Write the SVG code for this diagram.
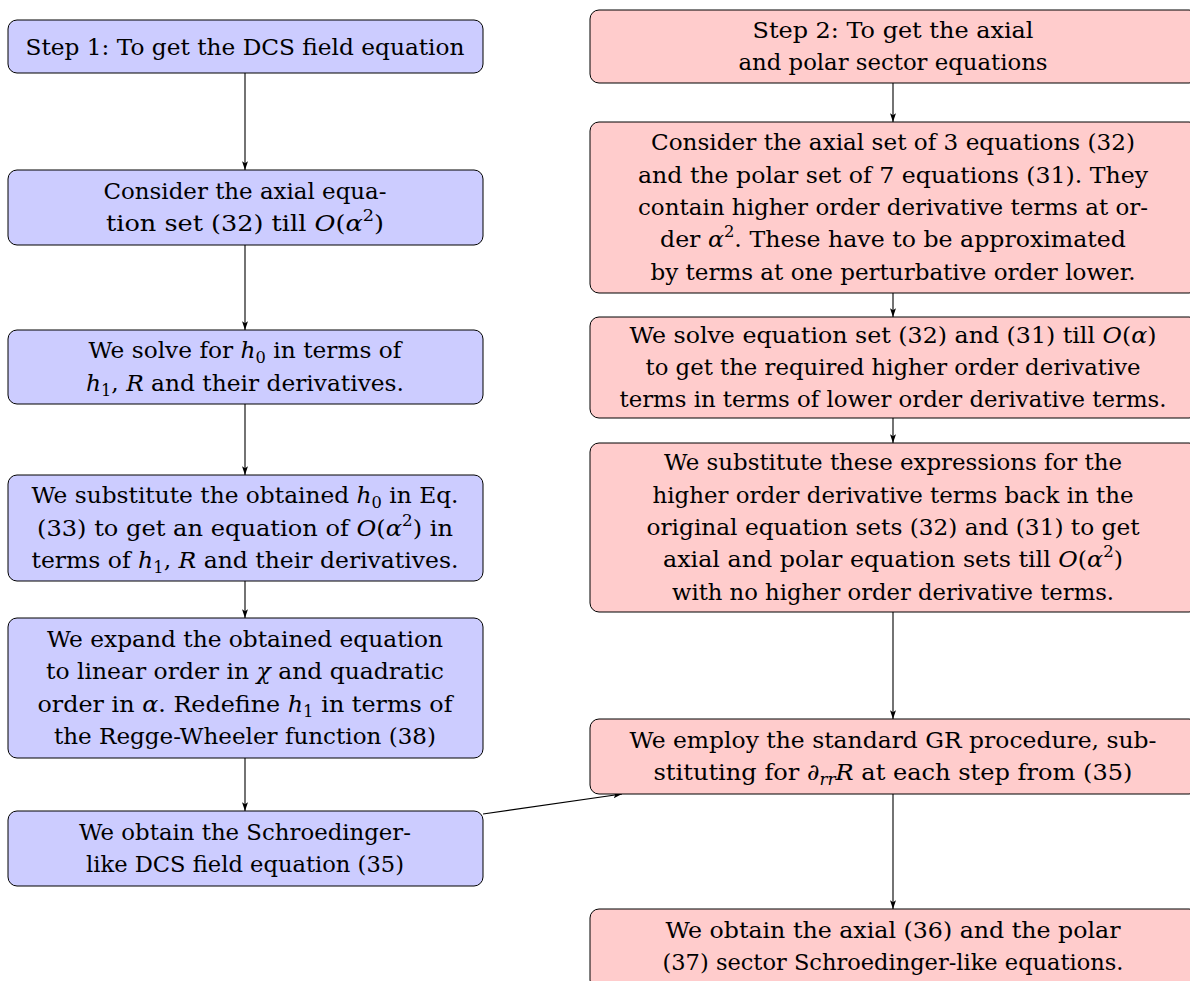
<svg xmlns="http://www.w3.org/2000/svg" width="1190" height="981" viewBox="0 0 1190 981">
<style>
.bl{fill:#ccccff;stroke:#000;stroke-width:1}
.rd{fill:#ffcccc;stroke:#000;stroke-width:1}
.t{font-family:"DejaVu Serif","Liberation Serif",serif;font-size:23px;text-anchor:middle;fill:#000}
.i{font-style:italic}
.s{font-size:16px}
.c{stroke:#000;stroke-width:1.1;fill:none;marker-end:url(#ah)}
</style>
<defs>
<marker id="ah" viewBox="0 0 10 8" refX="10" refY="4" markerWidth="9" markerHeight="7" markerUnits="userSpaceOnUse" orient="auto">
<path d="M0,0.6 L10,4 L0,7.4 L2.2,4 z" fill="#000"/>
</marker>
</defs>
<rect width="1190" height="981" fill="#fff"/>
<g id="connectors">
<line class="c" x1="245" y1="73" x2="245" y2="170"/>
<line class="c" x1="245" y1="245" x2="245" y2="330"/>
<line class="c" x1="245" y1="404" x2="245" y2="475"/>
<line class="c" x1="245" y1="581" x2="245" y2="618"/>
<line class="c" x1="245" y1="758" x2="245" y2="811"/>
<line class="c" x1="483" y1="814" x2="622" y2="794"/>
<line class="c" x1="893" y1="83" x2="893" y2="122"/>
<line class="c" x1="893" y1="293" x2="893" y2="317"/>
<line class="c" x1="893" y1="418" x2="893" y2="443"/>
<line class="c" x1="893" y1="612" x2="893" y2="719"/>
<line class="c" x1="893" y1="794" x2="893" y2="909"/>
</g>
<g id="L1">
<rect class="bl" x="8" y="20" width="475" height="53" rx="9"/>
<text class="t" x="245" y="54.5" textLength="439" lengthAdjust="spacingAndGlyphs">Step 1:  To get the DCS field equation</text>
</g>
<g id="L2">
<rect class="bl" x="8" y="170" width="475" height="75" rx="9"/>
<text class="t" x="245" y="198.9" textLength="283" lengthAdjust="spacingAndGlyphs">Consider the axial equa-</text>
<text class="t" x="245" y="231.2" textLength="278" lengthAdjust="spacingAndGlyphs">tion set (32) till <tspan class="i">O</tspan>(<tspan class="i">α</tspan><tspan class="s" dy="-10">2</tspan><tspan dy="10">)</tspan></text>
</g>
<g id="L3">
<rect class="bl" x="8" y="330" width="475" height="74" rx="9"/>
<text class="t" x="245" y="358.4" textLength="313" lengthAdjust="spacingAndGlyphs">We solve for <tspan class="i">h</tspan><tspan class="s" dy="5">0</tspan><tspan dy="-5"> in terms of</tspan></text>
<text class="t" x="245" y="390.7" textLength="318" lengthAdjust="spacingAndGlyphs"><tspan class="i">h</tspan><tspan class="s" dy="5">1</tspan><tspan dy="-5">, </tspan><tspan class="i">R</tspan> and their derivatives.</text>
</g>
<g id="L4">
<rect class="bl" x="8" y="475" width="475" height="106" rx="9"/>
<text class="t" x="245" y="503.2" textLength="427" lengthAdjust="spacingAndGlyphs">We substitute the obtained <tspan class="i">h</tspan><tspan class="s" dy="5">0</tspan><tspan dy="-5"> in Eq.</tspan></text>
<text class="t" x="245" y="535.5" textLength="416" lengthAdjust="spacingAndGlyphs">(33) to get an equation of <tspan class="i">O</tspan>(<tspan class="i">α</tspan><tspan class="s" dy="-10">2</tspan><tspan dy="10">) in</tspan></text>
<text class="t" x="245" y="567.8" textLength="427" lengthAdjust="spacingAndGlyphs">terms of <tspan class="i">h</tspan><tspan class="s" dy="5">1</tspan><tspan dy="-5">, </tspan><tspan class="i">R</tspan> and their derivatives.</text>
</g>
<g id="L5">
<rect class="bl" x="8" y="618" width="475" height="140" rx="9"/>
<text class="t" x="245" y="647.1" textLength="396" lengthAdjust="spacingAndGlyphs">We expand the obtained equation</text>
<text class="t" x="245" y="679.4" textLength="398" lengthAdjust="spacingAndGlyphs">to linear order in <tspan class="i">χ</tspan> and quadratic</text>
<text class="t" x="245" y="711.7" textLength="415" lengthAdjust="spacingAndGlyphs">order in <tspan class="i">α</tspan>.  Redefine <tspan class="i">h</tspan><tspan class="s" dy="5">1</tspan><tspan dy="-5"> in terms of</tspan></text>
<text class="t" x="245" y="744" textLength="382" lengthAdjust="spacingAndGlyphs">the Regge-Wheeler function (38)</text>
</g>
<g id="L6">
<rect class="bl" x="8" y="811" width="475" height="75" rx="9"/>
<text class="t" x="245" y="839.9" textLength="332" lengthAdjust="spacingAndGlyphs">We obtain the Schroedinger-</text>
<text class="t" x="245" y="872.2" textLength="318" lengthAdjust="spacingAndGlyphs">like DCS field equation (35)</text>
</g>
<g id="R1">
<rect class="rd" x="590" y="10" width="608" height="73" rx="9"/>
<text class="t" x="893" y="37.9" textLength="281" lengthAdjust="spacingAndGlyphs">Step 2:  To get the axial</text>
<text class="t" x="893" y="70.2" textLength="309" lengthAdjust="spacingAndGlyphs">and polar sector equations</text>
</g>
<g id="R2">
<rect class="rd" x="590" y="122" width="608" height="171" rx="9"/>
<text class="t" x="893" y="150.4" textLength="484" lengthAdjust="spacingAndGlyphs">Consider the axial set of 3 equations (32)</text>
<text class="t" x="893" y="182.7" textLength="510" lengthAdjust="spacingAndGlyphs">and the polar set of 7 equations (31).  They</text>
<text class="t" x="893" y="215" textLength="510" lengthAdjust="spacingAndGlyphs">contain higher order derivative terms at or-</text>
<text class="t" x="893" y="247.3" textLength="466" lengthAdjust="spacingAndGlyphs">der <tspan class="i">α</tspan><tspan class="s" dy="-10">2</tspan><tspan dy="10">.  These have to be approximated</tspan></text>
<text class="t" x="893" y="279.6" textLength="485" lengthAdjust="spacingAndGlyphs">by terms at one perturbative order lower.</text>
</g>
<g id="R3">
<rect class="rd" x="590" y="317" width="608" height="101" rx="9"/>
<text class="t" x="893" y="342.7" textLength="527" lengthAdjust="spacingAndGlyphs">We solve equation set (32) and (31) till <tspan class="i">O</tspan>(<tspan class="i">α</tspan>)</text>
<text class="t" x="893" y="375" textLength="495" lengthAdjust="spacingAndGlyphs">to get the required higher order derivative</text>
<text class="t" x="893" y="407.3" textLength="547" lengthAdjust="spacingAndGlyphs">terms in terms of lower order derivative terms.</text>
</g>
<g id="R4">
<rect class="rd" x="590" y="443" width="608" height="169" rx="9"/>
<text class="t" x="893" y="470.4" textLength="458" lengthAdjust="spacingAndGlyphs">We substitute these expressions for the</text>
<text class="t" x="893" y="502.7" textLength="481" lengthAdjust="spacingAndGlyphs">higher order derivative terms back in the</text>
<text class="t" x="893" y="535" textLength="493" lengthAdjust="spacingAndGlyphs">original equation sets (32) and (31) to get</text>
<text class="t" x="893" y="567.3" textLength="460" lengthAdjust="spacingAndGlyphs">axial and polar equation sets till <tspan class="i">O</tspan>(<tspan class="i">α</tspan><tspan class="s" dy="-10">2</tspan><tspan dy="10">)</tspan></text>
<text class="t" x="893" y="599.6" textLength="442" lengthAdjust="spacingAndGlyphs">with no higher order derivative terms.</text>
</g>
<g id="R5">
<rect class="rd" x="590" y="719" width="608" height="75" rx="9"/>
<text class="t" x="893" y="747.9" textLength="527" lengthAdjust="spacingAndGlyphs">We employ the standard GR procedure, sub-</text>
<text class="t" x="893" y="780.2" textLength="479" lengthAdjust="spacingAndGlyphs">stituting for ∂<tspan class="s i" dy="5">rr</tspan><tspan class="i" dy="-5">R</tspan> at each step from (35)</text>
</g>
<g id="R6">
<rect class="rd" x="590" y="909" width="608" height="80" rx="9"/>
<text class="t" x="893" y="937.9" textLength="455" lengthAdjust="spacingAndGlyphs">We obtain the axial (36) and the polar</text>
<text class="t" x="893" y="970.2" textLength="461" lengthAdjust="spacingAndGlyphs">(37) sector Schroedinger-like equations.</text>
</g>
</svg>
